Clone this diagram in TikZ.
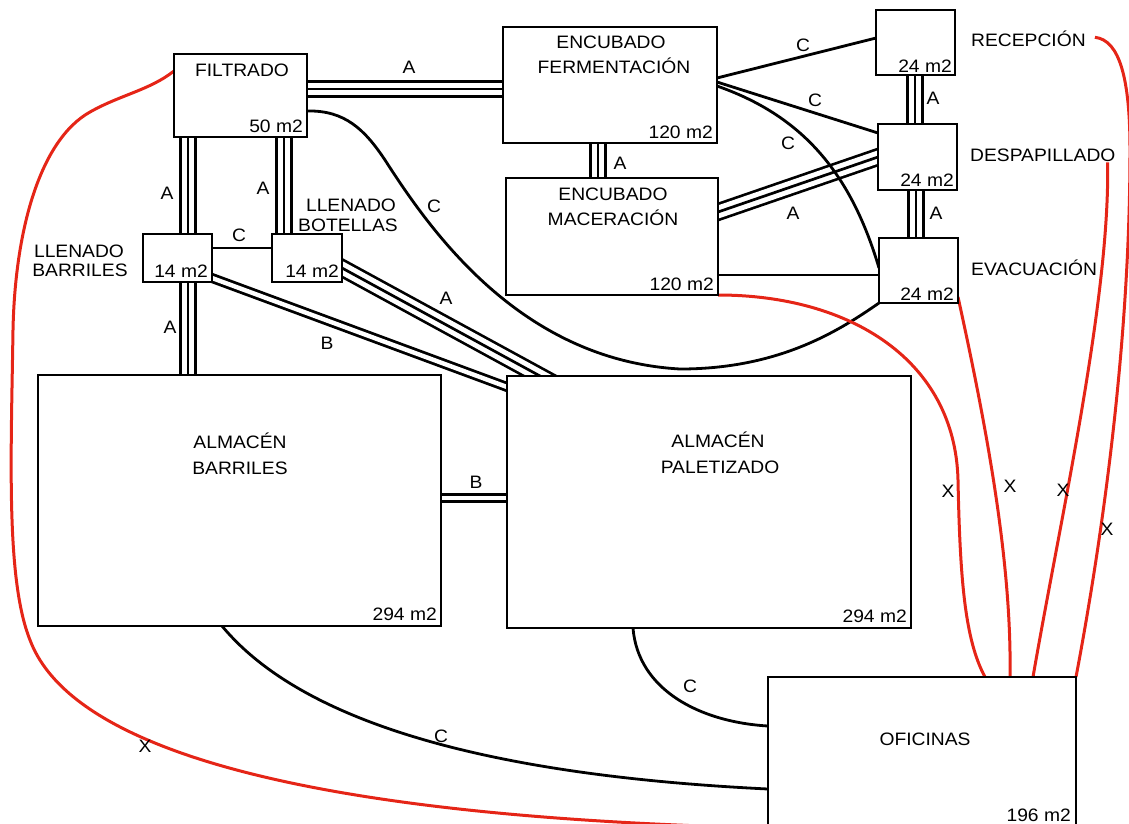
\documentclass[tikz,border=0pt]{standalone}
\usepackage{fontspec}
\setmainfont{Liberation Sans}[FakeStretch=1.07]
\usetikzlibrary{calc}
\definecolor{xred}{RGB}{229,37,23}
\pgfdeclarelayer{bg}
\pgfsetlayers{bg,main}
\begin{document}
\begin{tikzpicture}[x=1pt,y=-1pt,
  box/.style={draw, line width=2pt, fill=white, inner sep=0pt, outer sep=0pt},
  ttl/.style={anchor=base, inner sep=0pt, font=\fontsize{18pt}{22pt}\selectfont},
  side/.style={anchor=base west, inner sep=0pt, font=\fontsize{18pt}{22pt}\selectfont},
  area/.style={anchor=base east, inner sep=0pt, font=\fontsize{18pt}{22pt}\selectfont},
  lbl/.style={inner sep=1pt, font=\fontsize{18pt}{22pt}\selectfont},
  conn/.style={line width=2.8pt},
  tri/.style={line width=18pt, postaction={draw=white,line width=12.6pt}, postaction={draw=black,line width=2.7pt}},
  dbl/.style={line width=2.8pt, double=white, double distance=4.4pt},
  rl/.style={draw=xred, line width=3pt}
]
\useasboundingbox (0,0) rectangle (1129,823);

% ---------- boxes ----------
\node[box,minimum width=133pt,minimum height=83pt]  (fil)    at (240.5,95.5) {};
\node[box,minimum width=214pt,minimum height=116pt] (fer)    at (610,85) {};
\node[box,minimum width=212pt,minimum height=117pt] (mac)    at (612,236.5) {};
\node[box,minimum width=79pt,minimum height=65pt]   (rec)    at (915.5,42.5) {};
\node[box,minimum width=79pt,minimum height=66pt]   (desp)   at (917.5,157) {};
\node[box,minimum width=79pt,minimum height=65pt]   (evac)   at (918.5,270.5) {};
\node[box,minimum width=69pt,minimum height=48pt]   (llbar)  at (177.5,258) {};
\node[box,minimum width=70pt,minimum height=48pt]   (llbot)  at (307,258) {};
\node[box,minimum width=403pt,minimum height=251pt] (almbar) at (239.5,500.5) {};
\node[box,minimum width=404pt,minimum height=252pt] (almpal) at (709,502) {};
\node[box,minimum width=308pt,minimum height=160pt] (ofi)    at (922,757) {};

% ---------- titles ----------
\node[ttl] (filT)   at (242,76)  {FILTRADO};
\node[ttl] (ferT1)  at (611,48)  {ENCUBADO};
\node[ttl] (ferT2)  at (614,73)  {FERMENTACIÓN};
\node[ttl] (macT1)  at (613,200) {ENCUBADO};
\node[ttl] (macT2)  at (613,225) {MACERACIÓN};
\node[ttl] (barT1)  at (240,448) {ALMACÉN};
\node[ttl] (barT2)  at (240,474) {BARRILES};
\node[ttl] (palT1)  at (718,447) {ALMACÉN};
\node[ttl] (palT2)  at (720,473) {PALETIZADO};
\node[ttl] (ofiT)   at (925,745) {OFICINAS};
\node[ttl] (llbarT1) at (79,257) {LLENADO};
\node[ttl] (llbarT2) at (80,276) {BARRILES};
\node[ttl] (llbotT1) at (351,211) {LLENADO};
\node[ttl] (llbotT2) at (348,231) {BOTELLAS};
\node[side] (reclbl)  at (971,46)  {RECEPCIÓN};
\node[side] (desplbl) at (970,161) {DESPAPILLADO};
\node[side] (evaclbl) at (971,275) {EVACUACIÓN};

% ---------- areas ----------
\node[area] (filA)    at ($(fil.south east)+(-4,-5)$)    {50 m2};
\node[area] (ferA)    at ($(fer.south east)+(-4,-5)$)    {120 m2};
\node[area] (macA)    at ($(mac.south east)+(-4,-5)$)    {120 m2};
\node[area] (recA)    at ($(rec.south east)+(-3,-3)$)    {24 m2};
\node[area] (despA)   at ($(desp.south east)+(-3,-4)$)   {24 m2};
\node[area] (evacA)   at ($(evac.south east)+(-4,-3)$)   {24 m2};
\node[area] (llbarA)  at ($(llbar.south east)+(-4,-5)$)  {14 m2};
\node[area] (llbotA)  at ($(llbot.south east)+(-3,-5)$)  {14 m2};
\node[area] (almbarA) at ($(almbar.south east)+(-4,-6)$) {294 m2};
\node[area] (almpalA) at ($(almpal.south east)+(-4,-6)$) {294 m2};
\node[area] (ofiA)    at ($(ofi.north east)+(-5,144)$)   {196 m2};

% ---------- connectors ----------
\begin{pgfonlayer}{bg}
% triple (A)
\draw[tri] (fil.center |- 0,89) -- (fer.center |- 0,89);
\draw[tri] (fil.center -| 188,0) -- (llbar.center -| 188,0);
\draw[tri] (llbar.center -| 188,0) -- (almbar.center -| 188,0);
\draw[tri] (fil.center -| 284,0) -- (llbot.center -| 284,0);
\draw[tri] (fer.center -| 598,0) -- (mac.center -| 598,0);
\draw[tri] (rec.center -| 915,0) -- (desp.center -| 915,0);
\draw[tri] (desp.center -| 916,0) -- (evac.center -| 916,0);
\coordinate (t1) at (llbot.east |- 0,268);
\coordinate (t2) at (almpal.north -| 540,0);
\draw[tri] ($(t1)!-14pt!(t2)$) -- ($(t2)!-22pt!(t1)$);
\coordinate (t3) at (mac.east |- 0,212);
\coordinate (t4) at (desp.west |- 0,157);
\draw[tri] ($(t3)!-15pt!(t4)$) -- ($(t4)!-15pt!(t3)$);
% double (B)
\draw[dbl] (almbar.center |- 0,498) -- (almpal.center |- 0,498);
\coordinate (b1) at (llbar.east |- 0,278);
\coordinate (b2) at (almpal.west |- 0,387);
\draw[dbl] ($(b1)!-12pt!(b2)$) -- ($(b2)!-12pt!(b1)$);
% single (C and plain)
\draw[conn] (llbar.center |- 0,248) -- (llbot.center |- 0,248);
\draw[conn] (mac.center |- 0,275) -- (evac.center |- 0,275);
\coordinate (s1) at (fer.east |- 0,78);
\coordinate (s2) at (rec.west |- 0,38);
\draw[conn] ($(s1)!-6pt!(s2)$) -- ($(s2)!-6pt!(s1)$);
\coordinate (s3) at (fer.east |- 0,82);
\coordinate (s4) at (desp.west |- 0,133);
\draw[conn] ($(s3)!-6pt!(s4)$) -- ($(s4)!-6pt!(s3)$);
\draw[conn] (fer.east |- 0,86) .. controls (800,115) and (850,170) .. (evac.west |- 0,268);
\draw[conn] (fil.east |- 0,111) .. controls (345,110) and (365,130) .. (385,160)
   .. controls (430,230) and (520,360) .. (680,369)
   .. controls (780,369) and (840,330) .. (evac.south west);
\draw[conn] (almbar.south -| 222,0) .. controls (300,720) and (480,775) .. (ofi.west |- 0,789);
\draw[conn] (almpal.south -| 633,0) .. controls (638,690) and (700,722) .. (ofi.west |- 0,726);
% red (X)
\draw[rl] (fil.west |- 0,71) .. controls (150,90) and (120,95) .. (90,112)
   .. controls (40,140) and (15,230) .. (13,330)
   .. controls (11,460) and (6,580) .. (30,640)
   .. controls (62,725) and (220,815) .. (ofi.west |- 0,828);
\draw[rl] (mac.south east) .. controls (850,295) and (955,360) .. (958,480)
   .. controls (960,580) and (965,640) .. (ofi.north -| 985,0);
\draw[rl] (evac.east |- 0,297) .. controls (985,420) and (1012,560) .. (ofi.north -| 1010,0);
\draw[rl] ($(desplbl.south east)+(-8,1)$) .. controls (1110,300) and (1060,520) .. (ofi.north -| 1033,0);
\draw[rl] ($(reclbl.east)+(9,-1)$) .. controls (1120,40) and (1130,80) .. (1130,150)
   .. controls (1130,350) and (1100,550) .. (ofi.north east);
\end{pgfonlayer}

% ---------- connector labels ----------
\node[lbl] (lA1) at (409,67)  {A};
\node[lbl] (lA2) at (167,193) {A};
\node[lbl] (lA3) at (263,188) {A};
\node[lbl] (lA4) at (170,327) {A};
\node[lbl] (lA5) at (446,298) {A};
\node[lbl] (lA6) at (620,163) {A};
\node[lbl] (lA7) at (793,213) {A};
\node[lbl] (lA8) at (933,98)  {A};
\node[lbl] (lA9) at (936,213) {A};
\node[lbl] (lB1) at (327,343) {B};
\node[lbl] (lB2) at (476,482) {B};
\node[lbl] (lC1) at (239,235) {C};
\node[lbl] (lC2) at (434,206) {C};
\node[lbl] (lC3) at (803,45)  {C};
\node[lbl] (lC4) at (815,100) {C};
\node[lbl] (lC5) at (788,143) {C};
\node[lbl] (lC6) at (441,736) {C};
\node[lbl] (lC7) at (690,686) {C};
\node[lbl] (lX1) at (145,746) {X};
\node[lbl] (lX2) at (948,491) {X};
\node[lbl] (lX3) at (1010,486) {X};
\node[lbl] (lX4) at (1063,490) {X};
\node[lbl] (lX5) at (1107,529) {X};
\end{tikzpicture}
\end{document}
